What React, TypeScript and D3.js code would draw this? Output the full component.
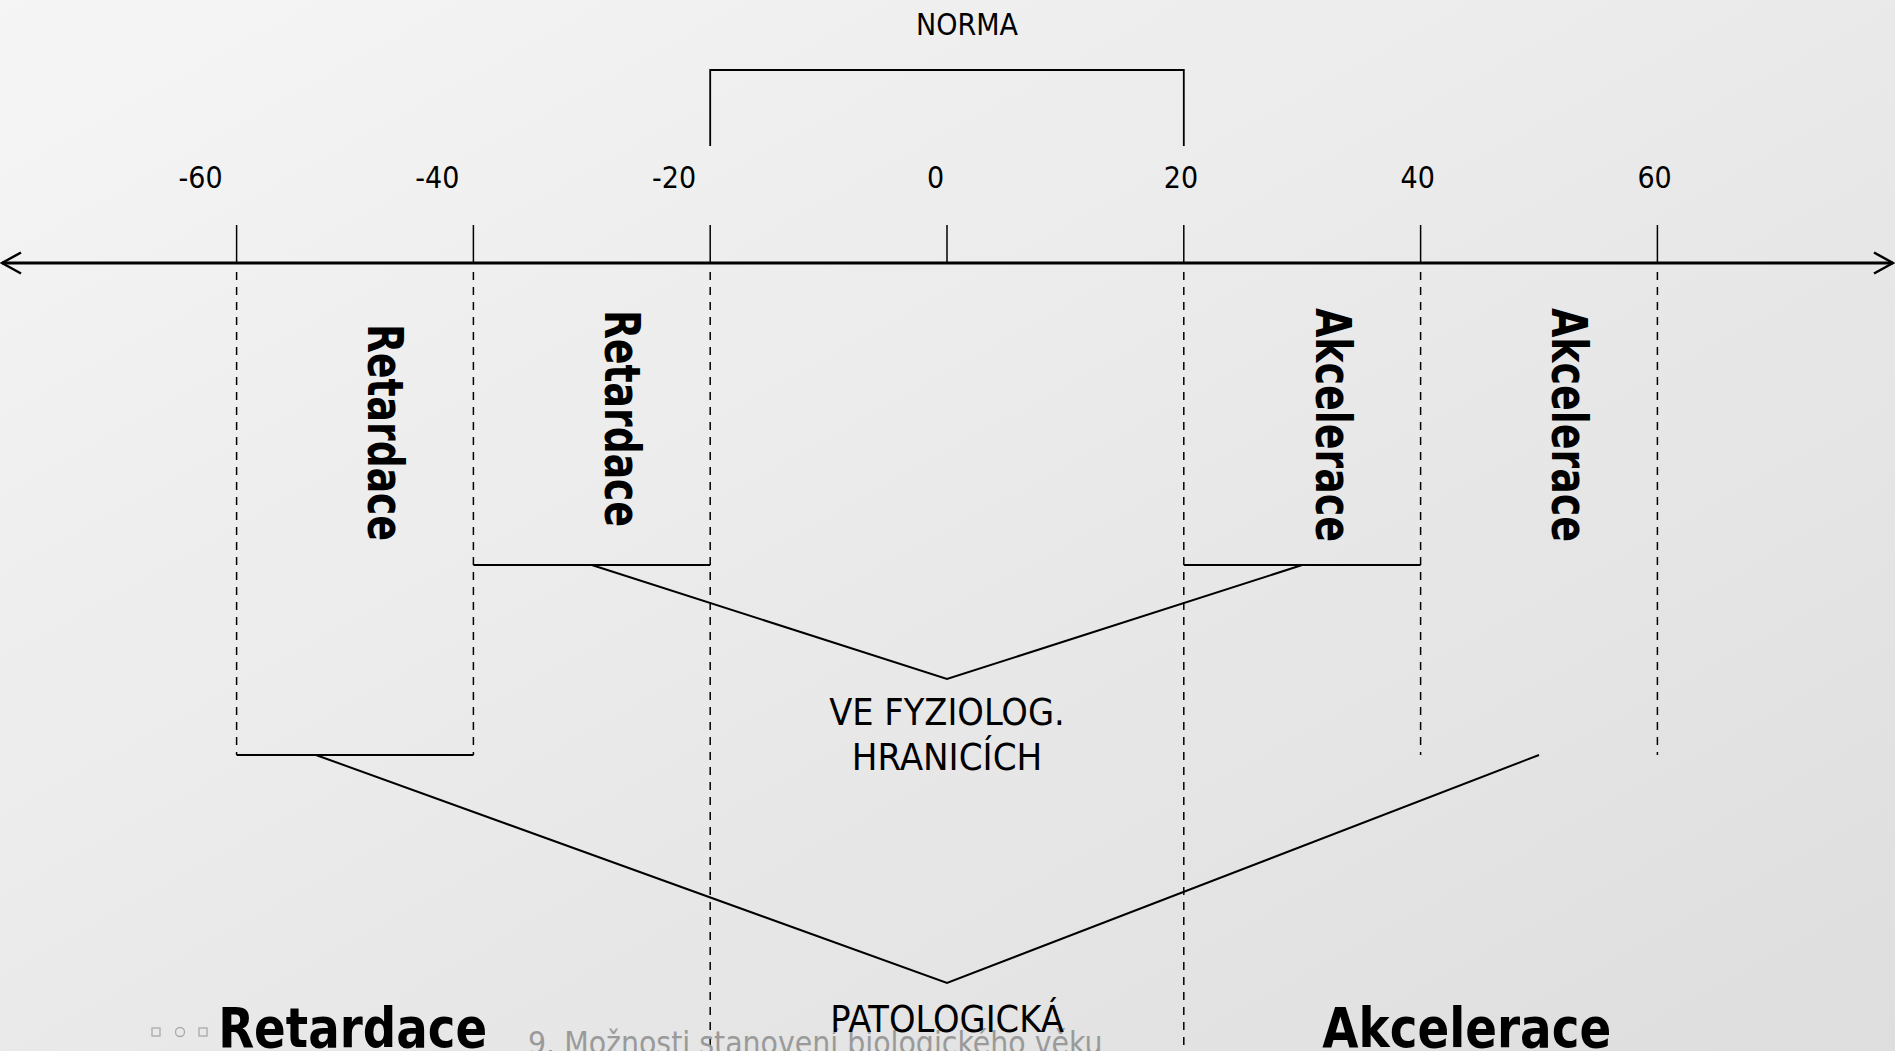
import * as d3 from "d3";

const W = 1895;
const H = 1051;

// axis
const tickValues = [-60, -40, -20, 0, 20, 40, 60];
const tickLabels = ["-60", "-40", "-20", "0", "20", "40", "60"];
const normaRange = [-20, 20];

// dashed guides below the axis
const longGuides = [-20, 20]; // run to the bottom edge
const shortGuides = [-60, -40, 40, 60]; // stop at the lower bracket

// brackets under the zones
const physBars = [[-40, -20], [20, 40]];
const pathBars = [[-60, -40]];

// V connectors: left end, apex, right end
const physV = [-30, 0, 30];
const pathV = [-53.3, 0, 50];

// vertical zone labels and where they sit on the axis
const zoneLabels = ["Retardace", "Retardace", "Akcelerace", "Akcelerace"];
const zoneLabelAt = [-47.3, -27.3, 32.8, 52.7];

// big labels at the bottom
const bottomLabels = ["Retardace", "Akcelerace"];
const bottomLabelAt = [-50.2, 43.9];

const FONT = "'DejaVu Sans Condensed', 'DejaVu Sans', sans-serif";

export default function App() {
  const x = d3.scaleLinear().domain([-60, 60]).range([236.6, 1657.4]);

  // vertical layout
  const axisY = 263;
  const tickTop = 225;
  const physY = 565;
  const pathY = 755;
  const physApex = 679;
  const pathApex = 983;
  const zoneTops = [324, 310, 308, 308];
  const zoneLen = [217, 217, 234, 234];
  const bottomLen = [269, 289];

  const physPath = d3
    .line<number>()
    .x((v) => x(v))
    .y((_, i) => (i === 1 ? physApex : physY))(physV);
  const pathPath = d3
    .line<number>()
    .x((v) => x(v))
    .y((_, i) => (i === 1 ? pathApex : pathY))(pathV);

  return (
    <svg
      width={W}
      height={H}
      style={{ position: "fixed", left: 0, top: 0, display: "block" }}
      fontFamily={FONT}
    >
      <defs>
        <linearGradient id="bg" x1="0" y1="0" x2="1" y2="1">
          <stop offset="0" stopColor="#f5f5f5" />
          <stop offset="1" stopColor="#dedede" />
        </linearGradient>
      </defs>
      <rect width={W} height={H} fill="url(#bg)" />

      {/* norm bracket */}
      <path
        d={`M${x(normaRange[0])},146V70H${x(normaRange[1])}V146`}
        fill="none"
        stroke="#000"
        strokeWidth={1.8}
      />
      <text x={x(0) + 20} y={35} fontSize={30} textAnchor="middle" fill="#000">
        NORMA
      </text>

      {/* tick labels */}
      {tickValues.map((v, i) => (
        <text
          key={v}
          x={v < 0 ? x(v) - 14 : x(v) - 20}
          y={188}
          fontSize={30}
          textAnchor={v < 0 ? "end" : "start"}
          fill="#000"
        >
          {tickLabels[i]}
        </text>
      ))}

      {/* ticks above axis */}
      {tickValues.map((v) => (
        <line key={v} x1={x(v)} x2={x(v)} y1={tickTop} y2={axisY} stroke="#000" strokeWidth={1.5} />
      ))}

      {/* axis with open arrows */}
      <line x1={2} x2={W - 2} y1={axisY} y2={axisY} stroke="#000" strokeWidth={3} />
      <polyline points={`21,${axisY - 10.5} 2,${axisY} 21,${axisY + 10.5}`} fill="none" stroke="#000" strokeWidth={2.5} />
      <polyline
        points={`${W - 21},${axisY - 10.5} ${W - 2},${axisY} ${W - 21},${axisY + 10.5}`}
        fill="none"
        stroke="#000"
        strokeWidth={2.5}
      />

      {/* dashed guides */}
      {longGuides.map((v) => (
        <line
          key={v}
          x1={x(v)}
          x2={x(v)}
          y1={axisY + 2}
          y2={H}
          stroke="#000"
          strokeWidth={1.5}
          strokeDasharray="8 7"
          strokeDashoffset={8}
        />
      ))}
      {shortGuides.map((v) => (
        <line
          key={v}
          x1={x(v)}
          x2={x(v)}
          y1={axisY + 2}
          y2={pathY}
          stroke="#000"
          strokeWidth={1.5}
          strokeDasharray="8 7"
          strokeDashoffset={8}
        />
      ))}

      {/* brackets */}
      {physBars.map(([a, b]) => (
        <line key={a} x1={x(a)} x2={x(b)} y1={physY} y2={physY} stroke="#000" strokeWidth={2} />
      ))}
      {pathBars.map(([a, b]) => (
        <line key={a} x1={x(a)} x2={x(b)} y1={pathY} y2={pathY} stroke="#000" strokeWidth={2} />
      ))}

      {/* V connectors */}
      <path d={physPath ?? ""} fill="none" stroke="#000" strokeWidth={2} />
      <path d={pathPath ?? ""} fill="none" stroke="#000" strokeWidth={2} />

      <text x={x(0)} y={725} fontSize={37.5} textAnchor="middle" fill="#000">
        VE FYZIOLOG.
      </text>
      <text x={x(0)} y={770} fontSize={38} textAnchor="middle" fill="#000">
        HRANICÍCH
      </text>

      {/* vertical zone labels */}
      {zoneLabels.map((t, i) => (
        <g key={i} transform={`translate(${x(zoneLabelAt[i])},${zoneTops[i]}) rotate(90) scale(1,1.31)`}>
          <text
            x={0}
            y={38 * 0.38}
            fontFamily="'DejaVu Sans', sans-serif"
            fontWeight="bold"
            fontSize={38}
            textLength={zoneLen[i]}
            lengthAdjust="spacingAndGlyphs"
            fill="#000"
          >
            {t}
          </text>
        </g>
      ))}

      {/* footer decorations */}
      <g fill="none" stroke="#aaa" strokeWidth={1.3}>
        <rect x={152} y={1028} width={8} height={8} />
        <circle cx={180} cy={1032} r={4.5} />
        <rect x={199} y={1028} width={8} height={8} />
      </g>
      <text x={528} y={1054} fontSize={31.6} fill="#9a9a9a">
        9. Možnosti stanovení biologického věku
      </text>

      <text x={x(0)} y={1032} fontSize={37.5} textAnchor="middle" fill="#000">
        PATOLOGICKÁ
      </text>

      {bottomLabels.map((t, i) => (
        <text
          key={t}
          x={x(bottomLabelAt[i])}
          y={1047}
          fontSize={55}
          fontWeight="bold"
          textAnchor="middle"
          textLength={bottomLen[i]}
          lengthAdjust="spacingAndGlyphs"
          fill="#000"
        >
          {t}
        </text>
      ))}
    </svg>
  );
}
